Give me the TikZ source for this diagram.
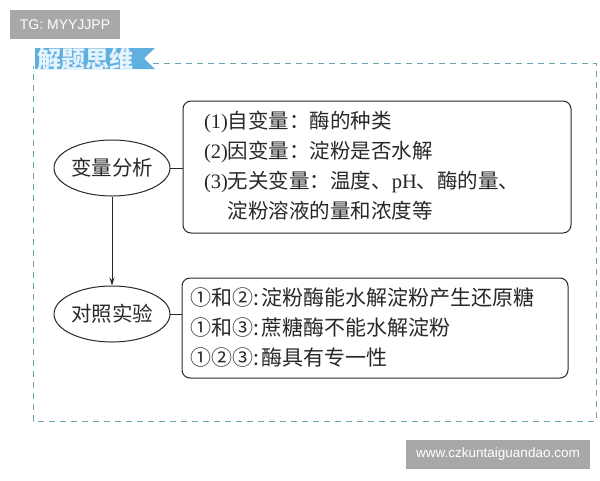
\documentclass[tikz,border=0pt]{standalone}
\usepackage{fontspec}
\newfontfamily\cjk{Noto Sans CJK SC}
\newfontfamily\lat{Liberation Serif}
\newfontfamily\wm{Liberation Sans}
\usetikzlibrary{shapes.geometric,arrows.meta}
\definecolor{frameC}{RGB}{105,165,175}
\definecolor{bannerC}{RGB}{95,175,225}
\definecolor{bannerT}{RGB}{228,243,252}
\definecolor{wmC}{RGB}{168,168,168}
\definecolor{inkC}{RGB}{40,40,40}
\tikzset{
  ovalnode/.style={draw=inkC, line width=1pt, ellipse, minimum width=108pt, minimum height=56pt, inner sep=0pt, font=\cjk\fontsize{20.5pt}{24pt}\selectfont, text=inkC},
  infobox/.style={draw=inkC, line width=1pt, rectangle, rounded corners=8pt, align=left, text=inkC},
  link/.style={draw=inkC, line width=1pt},
  wmbox/.style={fill=wmC, text=white, inner sep=0pt},
}
\begin{document}
\begin{tikzpicture}[x=1pt,y=-1pt]
\useasboundingbox (0,0) rectangle (600,480);
% dashed frame
\draw[frameC, line width=1pt, dash pattern=on 6pt off 5pt] (153,63) -- (596,63) -- (596,421) -- (33,421) -- (33,66);
% banner
\fill[bannerC] (35,48) -- (155,48) -- (144,58.5) -- (155,69) -- (35,69) -- cycle;
\node[text=bannerT, font=\cjk\bfseries\fontsize{24pt}{26pt}\selectfont, inner sep=0pt, anchor=west] (title) at (37,59) {解题思维};
% ovals
\node[ovalnode] (e1) at (112,168) {变量分析};
\node[ovalnode] (e2) at (112,314) {对照实验};
% boxes
\node[infobox, minimum width=388pt, minimum height=132pt, text width=346pt, inner xsep=21pt,
      font=\cjk\fontsize{20.5pt}{30pt}\selectfont] (b1) at (377,167)
  {{\lat (1)}自变量：酶的种类\\
   {\lat (2)}因变量：淀粉是否水解\\
   {\lat (3)}无关变量：温度、{\lat pH}、酶的量、\\
   \phantom{\lat (3)}淀粉溶液的量和浓度等};
\node[infobox, minimum width=386pt, minimum height=100pt, text width=370pt, inner xsep=8pt,
      font=\cjk\fontsize{21pt}{30pt}\selectfont] (b2) at (375,328)
  {①和②:\hspace{3pt}淀粉酶能水解淀粉产生还原糖\\
   ①和③:\hspace{3pt}蔗糖酶不能水解淀粉\\
   ①②③:\hspace{3pt}酶具有专一性};
% connectors
\draw[link] (e1.east) -- (e1.east -| b1.west);
\draw[link] (e2.east) -- (e2.east -| b2.west);
\draw[link, -{Stealth[length=8pt,width=5pt]}] (e1.south) -- (e2.north);
% watermarks
\node[wmbox, minimum width=110pt, minimum height=29pt, font=\wm\fontsize{14pt}{16pt}\selectfont] (wm1) at (65,24.5) {TG: MYYJJPP};
\node[wmbox, minimum width=184pt, minimum height=29pt, font=\wm\fontsize{13.5pt}{16pt}\selectfont] (wm2) at (498,454.5) {www.czkuntaiguandao.com};
\end{tikzpicture}
\end{document}
